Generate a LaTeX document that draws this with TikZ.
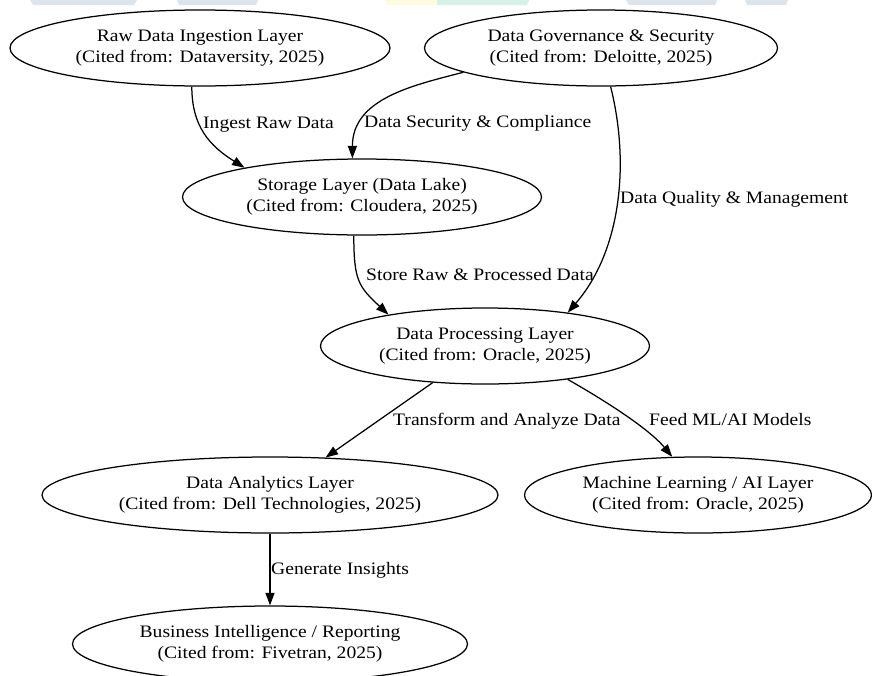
\documentclass[tikz,border=0pt]{standalone}
\usepackage{fontspec}
\setmainfont{Liberation Serif}[FakeStretch=1.12]
\usetikzlibrary{shapes.geometric,arrows.meta}
\definecolor{wmgrey}{HTML}{DDE4EA}
\definecolor{wmyellow}{HTML}{FDFBE2}
\definecolor{wmgreen}{HTML}{D8F0E5}
\tikzset{
  layer/.style={ellipse, draw, line width=1.25pt, inner sep=0pt,
    minimum height=76pt, align=center,
    font=\fontsize{17.5pt}{21pt}\selectfont},
  flow/.style={line width=1.25pt, -{Triangle[length=12.5pt,width=9pt]}},
  flowlabel/.style={inner sep=0pt, anchor=base west,
    font=\fontsize{17.5pt}{21pt}\selectfont},
}
\begin{document}
\begin{tikzpicture}[x=1pt,y=-1pt]
\clip (0,0) rectangle (872,675);
\fill[white] (0,0) rectangle (872,675);
% faint strip along the top edge
\fill[wmgrey] (30,0) -- (137,0) -- (134,5) -- (33,5) -- cycle;
\fill[wmgrey] (177,0) -- (258,0) -- (256,5) -- (179,5) -- cycle;
\fill[wmyellow] (385,0) -- (437,0) -- (437,5) -- (387,5) -- cycle;
\fill[wmgreen] (437,0) -- (529,0) -- (527,5) -- (437,5) -- cycle;
\fill[wmgrey] (626,0) -- (717,0) -- (715,5) -- (629,5) -- cycle;
\fill[wmgrey] (745,0) -- (788,0) -- (786,5) -- (747,5) -- cycle;

% layers
\node[layer, minimum width=380pt] (raw) at (200,48)
  {Raw Data Ingestion Layer\\(Cited from: Dataversity, 2025)};
\node[layer, minimum width=353pt] (gov) at (601,48)
  {Data Governance \& Security\\(Cited from: Deloitte, 2025)};
\node[layer, minimum width=359pt] (store) at (362,197)
  {Storage Layer (Data Lake)\\(Cited from: Cloudera, 2025)};
\node[layer, minimum width=329pt] (proc) at (485,346)
  {Data Processing Layer\\(Cited from: Oracle, 2025)};
\node[layer, minimum width=456pt] (ana) at (270,495)
  {Data Analytics Layer\\(Cited from: Dell Technologies, 2025)};
\node[layer, minimum width=347pt] (ml) at (698,495)
  {Machine Learning / AI Layer\\(Cited from: Oracle, 2025)};
\node[layer, minimum width=395pt] (bi) at (270,644)
  {Business Intelligence / Reporting\\(Cited from: Fivetran, 2025)};

% flows between layers
\draw[flow] (raw.-102) .. controls +(0,40) and +(-35,-22) .. (store.166);
\draw[flow] (gov.-170) .. controls +(-50,13) and +(0,-60) .. (store.104);
\draw[flow] (gov.-76) .. controls +(20,80) and +(52,-60) .. (proc.22);
\draw[flow] (store.-102) .. controls +(0,45) and +(-30,-28) .. (proc.162);
\draw[flow] (proc.-145) -- (ana.34);
\draw[flow] (proc.-22) .. controls +(30,17) and +(-25,-30) .. (ml.124);
\draw[flow] (ana.south) -- (bi.north);

% flow labels
\node[flowlabel] (lingest) at (203,128.5) {Ingest Raw Data};
\node[flowlabel] (lsec) at (364,127.5) {Data Security \& Compliance};
\node[flowlabel] (lqual) at (620,203.5) {Data Quality \& Management};
\node[flowlabel] (lstore) at (366,280.5) {Store Raw \& Processed Data};
\node[flowlabel] (ltrans) at (393,425.5) {Transform and Analyze Data};
\node[flowlabel] (lfeed) at (649,425.5) {Feed ML/AI Models};
\node[flowlabel] (lgen) at (271,574.5) {Generate Insights};
\end{tikzpicture}
\end{document}
